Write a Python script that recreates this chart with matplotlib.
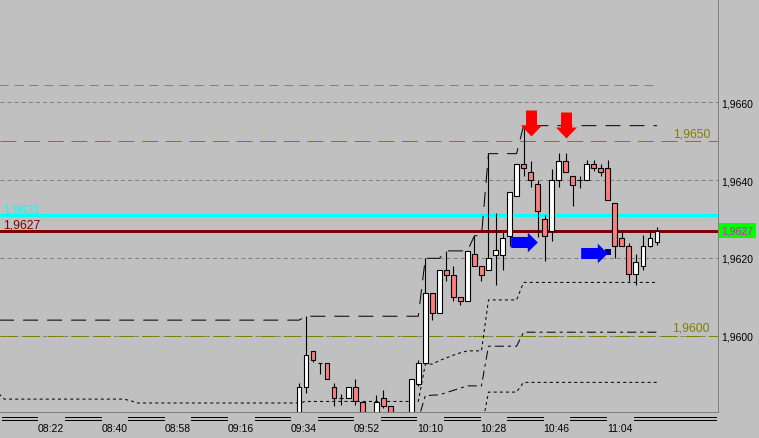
import matplotlib
matplotlib.use("Agg")
import matplotlib.pyplot as plt
import numpy as np

plt.rcParams['font.family'] = ['Liberation Sans', 'DejaVu Sans']
plt.rcParams['lines.scale_dashes'] = False

# 2 minute bars, bar 0 opens 09:32
bar_start = "09:32"
bar_minutes = 2

opens = [1.95786, 1.95867, 1.95960, 1.95930, 1.95929, 1.95867, 1.95839, 1.95840, 1.95867, 1.95829,
         1.95795, 1.95781, 1.95839, 1.95818, 1.95795, 1.95775, 1.95795, 1.95876, 1.95929, 1.96109,
         1.96058, 1.96169, 1.96157, 1.96099, 1.96088, 1.96210, 1.96178, 1.96169, 1.96208, 1.96208,
         1.96257, 1.96358, 1.96441, 1.96420, 1.96389, 1.96299, 1.96268, 1.96399, 1.96450, 1.96410,
         1.96399, 1.96399, 1.96441, 1.96430, 1.96430, 1.96341, 1.96251, 1.96230, 1.96158, 1.96178,
         1.96231, 1.96240]
highs = [1.95878, 1.96050, 1.95960, 1.95930, 1.95929, 1.95878, 1.95850, 1.95867, 1.95889, 1.95829,
         1.95800, 1.95848, 1.95861, 1.95818, 1.95800, 1.95798, 1.95889, 1.95938, 1.96199, 1.96109,
         1.96169, 1.96218, 1.96178, 1.96099, 1.96218, 1.96257, 1.96178, 1.96468, 1.96315, 1.96267,
         1.96369, 1.96441, 1.96539, 1.96450, 1.96399, 1.96309, 1.96429, 1.96469, 1.96469, 1.96410,
         1.96411, 1.96452, 1.96452, 1.96441, 1.96452, 1.96341, 1.96268, 1.96238, 1.96210, 1.96259,
         1.96268, 1.96280]
lows = [1.95773, 1.95852, 1.95932, 1.95901, 1.95889, 1.95820, 1.95822, 1.95840, 1.95822, 1.95791,
        1.95770, 1.95775, 1.95814, 1.95790, 1.95765, 1.95770, 1.95790, 1.95870, 1.95929, 1.96041,
        1.96058, 1.96141, 1.96090, 1.96079, 1.96088, 1.96178, 1.96141, 1.96169, 1.96131, 1.96170,
        1.96231, 1.96358, 1.96411, 1.96382, 1.96253, 1.96192, 1.96243, 1.96382, 1.96420, 1.96333,
        1.96380, 1.96399, 1.96423, 1.96411, 1.96350, 1.96200, 1.96230, 1.96141, 1.96131, 1.96170,
        1.96228, 1.96233]
closes = [1.95867, 1.95950, 1.95938, 1.95930, 1.95889, 1.95840, 1.95839, 1.95867, 1.95832, 1.95799,
          1.95780, 1.95830, 1.95820, 1.95795, 1.95775, 1.95795, 1.95889, 1.95929, 1.96109, 1.96058,
          1.96169, 1.96157, 1.96099, 1.96088, 1.96218, 1.96178, 1.96157, 1.96199, 1.96220, 1.96251,
          1.96369, 1.96441, 1.96430, 1.96400, 1.96321, 1.96257, 1.96399, 1.96450, 1.96420, 1.96388,
          1.96399, 1.96441, 1.96430, 1.96420, 1.96350, 1.96230, 1.96230, 1.96158, 1.96189, 1.96230,
          1.96250, 1.96270]

# channel lines (bar index, price)
upper_x = [-43, 0, 1, 17, 18, 20, 21, 24, 25, 26, 27, 31, 32, 51]
upper_y = [1.96040, 1.96040, 1.96050, 1.96050, 1.96199, 1.96199, 1.96218, 1.96218, 1.96257, 1.96257,
           1.96468, 1.96468, 1.96540, 1.96540]
low1_x = [-43, -42, -25, -24, -23, 0, 1, 17, 18, 19, 20, 21, 22, 23, 24, 26, 27, 31, 32, 51]
low1_y = [1.95855, 1.95837, 1.95837, 1.95833, 1.95827, 1.95827, 1.95831, 1.95831, 1.95927, 1.95927,
          1.95936, 1.95943, 1.95950, 1.95956, 1.95961, 1.95961, 1.96092, 1.96092, 1.96137, 1.96137]
low2_x = [16, 17, 18, 20, 24, 26, 27, 31, 32, 51]
low2_y = [1.95760, 1.95785, 1.95846, 1.95848, 1.95871, 1.95871, 1.95973, 1.95973, 1.96009, 1.96009]
low3_x = [26, 27, 31, 32, 51]
low3_y = [1.95760, 1.95855, 1.95855, 1.95880, 1.95880]
top_x = [-43, 51]
top_y = [1.96644, 1.96644]

price_ticks = [1.9600, 1.9620, 1.9640, 1.9660]
levels = [1.9650, 1.9600]
cyan_price = 1.9631
last_price = 1.9627

sell_x = [33, 38]
sell_y = [1.96546, 1.96542]
buy_x = [32, 42]
buy_y = [1.96242, 1.96213]

time_labels = ["08:22", "08:40", "08:58", "09:16", "09:34", "09:52",
               "10:10", "10:28", "10:46", "11:04"]


def fmt(p):
    return f"{p:.4f}".replace('.', ',')


def mins(t):
    h, m = t.split(':')
    return int(h) * 60 + int(m)


bg = '#c0c0c0'
lw = 0.72  # one pixel
fig = plt.figure(figsize=(7.59, 4.39), dpi=100, facecolor=bg)
ax = fig.add_axes([0, 26.5 / 439, 718 / 759, 412.5 / 439])
ax.set_facecolor(bg)
ax.set_xlim(-42.6, 59.7)
ax.set_ylim(1.958051, 1.968656)
for s in ['top', 'left']:
    ax.spines[s].set_visible(False)
for s in ['right', 'bottom']:
    ax.spines[s].set_color('#808080')
    ax.spines[s].set_linewidth(lw)
ax.set_xticks([])
ax.yaxis.tick_right()
ax.set_yticks(price_ticks)
ax.set_yticklabels([fmt(p) for p in price_ticks])
ax.tick_params(axis='y', length=0, pad=2.3, labelsize=7.5, colors='black')

for p in price_ticks:
    ax.axhline(p, color='#808080', lw=lw, dashes=(2.9, 2.2), zorder=1)
for p in levels:
    ax.axhline(p, color='#808000', lw=lw, dashes=(11.5, 5.5), zorder=2)
    ax.annotate(fmt(p), xy=(710 / 718, p), xycoords=('axes fraction', 'data'),
                xytext=(0, 3.4), textcoords='offset points', ha='right', va='baseline',
                color='#808000', fontsize=8.8)

ax.plot(top_x, top_y, color='#808080', lw=lw, dashes=(6.5, 4.3), zorder=2)
ax.axhline(cyan_price, color='#00ffff', lw=0.75, zorder=2, antialiased=False)
ax.axhline(last_price, color='#800000', lw=0.75, zorder=2, antialiased=False)
ax.annotate(fmt(cyan_price), xy=(0, cyan_price), xycoords=('axes fraction', 'data'),
            xytext=(2.5, 2.2), textcoords='offset points', va='baseline', color='#00ffff', fontsize=8.8)
ax.annotate(fmt(last_price), xy=(0, last_price), xycoords=('axes fraction', 'data'),
            xytext=(2.5, 2.6), textcoords='offset points', va='baseline', color='#800000', fontsize=8.8)

ax.plot(upper_x, upper_y, color='k', lw=lw, dashes=(10.8, 6.5), zorder=3)
ax.plot(low1_x, low1_y, color='k', lw=lw, dashes=(2.2, 2.2), zorder=3)
ax.plot(low2_x, low2_y, color='k', lw=lw, dashes=(6.5, 2.9, 2.2, 2.9), zorder=3)
ax.plot(low3_x, low3_y, color='k', lw=lw, dashes=(2.2, 2.2), zorder=3)

# candles
o = np.array(opens)
c = np.array(closes)
x = np.arange(len(o))
body_col = np.where(c >= o, '#ffffff', '#fa8080')
ax.vlines(x, lows, highs, color='k', lw=0.8, zorder=4)
ax.bar(x, np.abs(c - o), bottom=np.minimum(o, c), width=0.68, color=body_col,
       edgecolor='k', linewidth=0.8, zorder=5)

down_arrow = [(-5.5, 13), (5.5, 13), (5.5, -2), (10.5, -2), (0, -13), (-10.5, -2), (-5.5, -2), (-5.5, 13)]
right_arrow = [(-13.3, 5.5), (3.3, 5.5), (3.3, 9.8), (13.3, 0), (3.3, -9.8), (3.3, -5.5), (-13.3, -5.5), (-13.3, 5.5)]
ax.plot(sell_x, sell_y, ls='none', marker=down_arrow, markersize=18.7, color='#ff0000',
        markeredgewidth=0, zorder=7)
ax.plot(buy_x, buy_y, ls='none', marker=right_arrow, markersize=19.2, color='#0000ff',
        markeredgewidth=0, zorder=7)
ax.plot([44], [1.96214], ls='none', marker='s', markersize=5, color='#000080', markeredgewidth=0, zorder=6)

ax.annotate(fmt(last_price), xy=(1, last_price), xycoords=('axes fraction', 'data'),
            xytext=(2.6, 0), textcoords='offset points', ha='left', va='center',
            color='#ff00ff', fontsize=7.5, annotation_clip=False,
            bbox=dict(boxstyle='square,pad=0.25', fc='#00ff00', ec='none'))

# time strip
ax2 = fig.add_axes([0, 0, 718 / 759, 26.5 / 439])
ax2.set_xlim(ax.get_xlim())
ax2.set_ylim(0, 26.5)
ax2.axis('off')
label_pos = [(mins(t) - mins(bar_start)) / bar_minutes - 0.3 for t in time_labels]
gap = 1.97
edges = [ax.get_xlim()[0] + 0.35]
for p in label_pos:
    edges += [p - gap, p + gap]
edges.append(ax.get_xlim()[1] - 0.3)
for a, b in zip(edges[0::2], edges[1::2]):
    if b > a:
        ax2.plot([a, b], [21.5, 21.5], color='k', lw=0.72, solid_capstyle='butt', antialiased=False)
        ax2.plot([a, b], [18.0, 18.0], color='k', lw=0.72, solid_capstyle='butt', antialiased=False)
for p, t in zip(label_pos, time_labels):
    ax2.text(p, 9.6, t, ha='center', va='center', fontsize=7.5, color='k')

fig.savefig('out.png', dpi=100, facecolor=bg)
